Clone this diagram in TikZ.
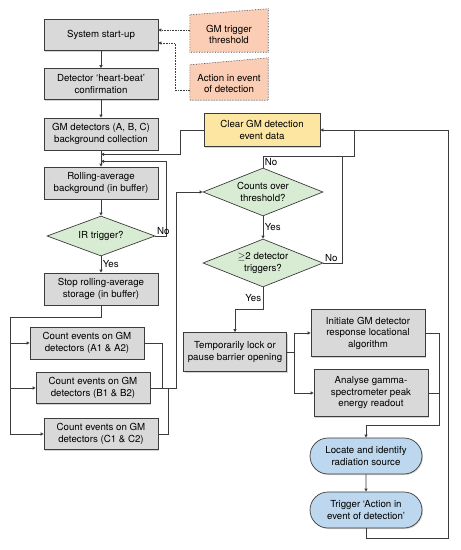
\documentclass[tikz,border=0pt]{standalone}
\usepackage{fontspec}
\setmainfont{TeX Gyre Heros}
\usetikzlibrary{calc,positioning,shapes.geometric,shapes.misc,shadows,arrows.meta,backgrounds}

\definecolor{boxgray}{HTML}{D9D9D9}
\definecolor{edgegray}{HTML}{3C3C3C}
\definecolor{decgreen}{HTML}{D8ECD4}
\definecolor{clearyellow}{HTML}{FDE6A2}
\definecolor{paramorange}{HTML}{FBCDB4}
\definecolor{endblue}{HTML}{BCD7EE}

\tikzset{
	txt/.style={font=\fontsize{9.7}{11.5}\selectfont},
	base/.style={txt, draw=edgegray, line width=0.7pt, align=center, inner sep=1pt},
	shade/.style={drop shadow={shadow xshift=1pt, shadow yshift=-1pt, opacity=0.35}},
	proc/.style={base, rectangle, fill=boxgray, shade, minimum width=114pt, minimum height=32pt},
	dec/.style={base, diamond, aspect=2.5, fill=decgreen, inner sep=0pt, minimum width=120pt, minimum height=48pt},
	term/.style={base, rounded rectangle, fill=endblue, shade, minimum width=114pt, minimum height=36pt},
	param/.style={txt, align=center, inner sep=1pt, minimum width=78pt},
	paramedge/.style={draw=edgegray, fill=paramorange, densely dotted, line width=0.6pt},
	line/.style={draw=edgegray, line width=0.7pt},
	arr/.style={line, -{Triangle[length=3pt,width=3pt]}},
	dotarr/.style={draw=edgegray, line width=0.6pt, densely dotted, -{Triangle[length=3pt,width=3pt]}},
	tag/.style={txt, inner sep=1.5pt}
}

\begin{document}
\begin{tikzpicture}[x=1pt,y=-1pt]
	\useasboundingbox (0,0) rectangle (461,550);
	
	% left column
	\node[proc, minimum height=31pt] (start) at (101,35) {System start-up};
	\node[proc, minimum height=31pt] (hb) at (101,84) {Detector `heart-beat'\\confirmation};
	\node[proc] (bg) at (101,134) {GM detectors (A, B, C)\\background collection};
	\node[proc] (ra) at (101,183) {Rolling-average\\background (in buffer)};
	\node[dec, minimum width=108pt, minimum height=40pt] (ir) at (101,236) {IR trigger?};
	\node[proc] (stop) at (101,289) {Stop rolling-average\\storage (in buffer)};
	\node[proc] (ca) at (87,343) {Count events on GM\\detectors (A1 \& A2)};
	\node[proc, minimum height=31pt] (cb) at (93,388) {Count events on GM\\detectors (B1 \& B2)};
	\node[proc, minimum height=31pt] (cc) at (101,434) {Count events on GM\\detectors (C1 \& C2)};
	
	% settings
	\node[param, minimum height=35pt] (thr) at (229,34.5) {GM trigger\\threshold};
	\node[param, minimum height=33pt] (act) at (229,83.5) {Action in event\\of detection};
	\begin{scope}[on background layer]
		\draw[paramedge] ([yshift=2pt]thr.north west) -- ([yshift=8pt]thr.north east) -- (thr.south east) -- (thr.south west) -- cycle;
		\draw[paramedge] ([yshift=2pt]act.north west) -- ([yshift=9pt]act.north east) -- (act.south east) -- (act.south west) -- cycle;
	\end{scope}
	
	% right part
	\node[base, rectangle, fill=clearyellow, shade, minimum width=116pt, minimum height=33pt] (clear) at (262,130) {Clear GM detection\\event data};
	\node[dec] (cot) at (263,192) {Counts over\\threshold?};
	\node[dec] (dt) at (263,263) {$\geq$2 detector\\triggers?};
	\node[proc, minimum width=103pt, minimum height=39pt] (temp) at (235,352) {Temporarily lock or\\pause barrier opening};
	\node[proc, minimum height=47pt] (init) at (368,333) {Initiate GM detector\\response locational\\algorithm};
	\node[proc, minimum height=47pt] (anal) at (371,393) {Analyse gamma-\\spectrometer peak\\energy readout};
	\node[term] (loc) at (366,456) {Locate and identify\\radiation source};
	\node[term] (trig) at (366,510) {Trigger `Action in\\event of detection'};
	
	% settings to start-up
	\draw[dotarr] ([yshift=4.5pt]thr.west) -- ([yshift=5pt]start.east);
	\draw[dotarr] ([yshift=-6.5pt]act.west) -- ++(-15,0) |- ([yshift=-8pt]start.east);
	
	% main chain
	\draw[arr] (start) -- (hb);
	\draw[arr] (hb) -- (bg);
	\draw[arr] (bg) -- (ra);
	\draw[arr] (ra) -- (ir);
	\draw[arr] (ir) -- (stop) node[tag, midway, right] {Yes};
	\draw[arr] (clear.west) -- ++(-23,0) |- ($(bg.south)+(0,4)$);
	\draw[arr] (ir.east) node[tag, above right] {No} -- ++(11,0) |- ($(bg.south)+(0,11)$);
	
	% counting bus
	\coordinate (bus) at (10,317);
	\draw[line] (stop.south) |- (bus) -- (bus |- cc.west);
	\draw[arr] (bus |- ca.west) -- (ca.west);
	\draw[arr] (bus |- cb.west) -- (cb.west);
	\draw[arr] (bus |- cc.west) -- (cc.west);
	\draw[line] (ca.east) -| ($(cb.east)+(12,0)$);
	\draw[line] (cc.east) -| ($(cb.east)+(18,0)$);
	\draw[arr] (cb.east) -- ++(26,0) |- (cot.west);
	
	% decisions
	\draw[arr] (cot) -- (dt) node[tag, midway, right] {Yes};
	\draw[line] (cot.north) node[tag, above right] {No} |- ($(clear.east)+(34,26)$) -- ($(clear.east)+(34,0)$);
	\draw[line] (dt.east) node[tag, above right] {No} -| ($(clear.east)+(22,26)$);
	\draw[arr] (dt.south) -- ++(0,22) node[tag, midway, left] {Yes} -| (temp.north);
	
	% response
	\draw[line] (temp.east) -- ++(7,0) coordinate (tj);
	\draw[arr] (tj) |- (init.west);
	\draw[arr] (tj) |- (anal.west);
	\draw[line] (init.east) -| ($(anal.east)+(11,0)$);
	\draw[arr] (anal.east) -- ++(11,0) |- ($(loc.north)+(0,-12)$) -- (loc.north);
	\draw[arr] (loc) -- (trig);
	\draw[arr] (trig.south) -- ++(0,10) -| ($(clear.east)+(128,0)$) -- (clear.east);
\end{tikzpicture}
\end{document}
